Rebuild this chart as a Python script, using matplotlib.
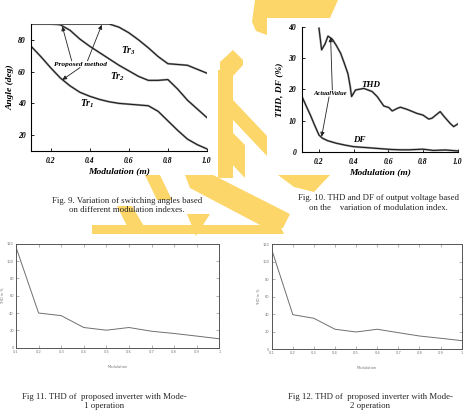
import matplotlib
matplotlib.use("Agg")
import matplotlib.pyplot as plt
from matplotlib.patches import Polygon, Rectangle

W, H = 467, 420

# ---------------- data ----------------
m9 = [0.1, 0.15, 0.2, 0.25, 0.3, 0.35, 0.4, 0.45, 0.5, 0.55, 0.6, 0.65, 0.7,
      0.75, 0.8, 0.85, 0.9, 0.95, 1.0]
tr1 = [76, 69.5, 62.5, 56, 51, 47, 44.5, 42.5, 41, 40, 39.5, 39, 38.5,
       35, 29, 23, 17.5, 14, 11.3]
tr2 = [90, 90, 90, 89.5, 86, 80.5, 76, 72, 68, 64, 60.5, 57, 54.5,
       54.5, 55, 49, 42, 36.5, 31]
tr3 = [90, 90, 90, 90, 90, 90, 90, 90, 90, 88, 84.5, 80, 75,
       69.5, 65, 64.5, 64, 61.5, 59]

thd_m = [0.2, 0.215, 0.235, 0.252, 0.277, 0.3, 0.325, 0.345, 0.367, 0.38, 0.388,
         0.411, 0.459, 0.507, 0.536, 0.574, 0.603, 0.623, 0.651, 0.67, 0.709,
         0.767, 0.8, 0.834, 0.853, 0.9, 0.92, 0.958, 0.978, 1.0]
thd = [39.5, 32.6, 34.5, 37, 36, 34, 31.5, 28.5, 25, 21, 17.7,
       19.8, 20.3, 19.3, 17.7, 14.7, 14.2, 13.1, 13.9, 14.3, 13.6,
       12.3, 11.8, 10.5, 10.8, 12.9, 11.5, 9.1, 8.1, 8.9]
df_m = [0.1, 0.125, 0.15, 0.175, 0.2, 0.22, 0.25, 0.3, 0.35, 0.4, 0.45, 0.5,
        0.57, 0.62, 0.67, 0.72, 0.8, 0.86, 0.93, 1.0]
df = [17.9, 14.8, 11.8, 8.5, 5.4, 4.4, 3.6, 2.8, 2.2, 1.7, 1.5, 1.3,
      1.0, 0.8, 0.7, 0.7, 0.9, 0.5, 0.65, 0.35]

m_b = [0.1, 0.2, 0.3, 0.4, 0.5, 0.6, 0.7, 0.8, 0.9, 1.0]
thd_mode1 = [116, 40, 37, 23.3, 20.2, 23.3, 19, 16.4, 13.4, 10.3]
thd_mode2 = [114, 39.6, 35.4, 22.9, 19.8, 22.9, 19, 15.2, 12.6, 9.9]
xt_b = [0.1, 0.2, 0.3, 0.4, 0.5, 0.6, 0.7, 0.8, 0.9, 1.0]
xtl_b = ["0.1", "0.2", "0.3", "0.4", "0.5", "0.6", "0.7", "0.8", "0.9", "1"]
yt_b = [0, 20, 40, 60, 80, 100, 120]
ytl_b = ["0", "20", "40", "60", "80", "100", "120"]

cap9 = "Fig. 9. Variation of switching angles based\non different modulation indexes."
cap10 = "Fig. 10. THD and DF of output voltage based\non the    variation of modulation index."
cap11 = "Fig 11. THD of  proposed inverter with Mode-\n1 operation"
cap12 = "Fig 12. THD of  proposed inverter with Mode-\n2 operation"

# ---------------- figure ----------------
plt.rcParams["mathtext.fontset"] = "custom"
plt.rcParams["mathtext.rm"] = "Liberation Serif:italic:bold"
plt.rcParams["mathtext.it"] = "Liberation Serif:italic:bold"
SERIF = "Liberation Serif"

fig = plt.figure(figsize=(W / 100, H / 100), dpi=100)
fig.patch.set_facecolor("white")


def px(x, y):
    return (x / W, 1 - y / H)


def rect(x0, y0, x1, y1):
    return [x0 / W, 1 - y1 / H, (x1 - x0) / W, (y1 - y0) / H]


# watermark (decorative)
YEL = "#FCD669"
wm = [
    [(255, 0), (338, 0), (330, 18), (267, 18), (267, 35), (256, 31), (252, 22)],
    [(220, 62), (233, 50), (243, 60), (243, 65), (233, 76), (220, 76)],
    [(218, 70), (233, 70), (233, 178), (218, 178)],
    [(233, 100), (268, 137), (268, 157), (233, 120)],
    [(228, 128), (245, 145), (245, 178), (228, 160)],
    [(145, 175), (160, 175), (172, 200), (157, 200)],
    [(185, 175), (213, 175), (290, 214), (283, 228), (262, 226), (190, 188)],
    [(117, 206), (132, 206), (145, 228), (130, 232)],
    [(92, 225), (280, 225), (284, 234), (92, 234)],
    [(187, 214), (210, 214), (196, 236)],
    [(278, 175), (330, 175), (314, 192), (294, 187)],
]
for poly in wm:
    fig.patches.append(Polygon([px(*p) for p in poly], closed=True,
                               transform=fig.transFigure, facecolor=YEL,
                               edgecolor="none", zorder=-2))
fig.patches.append(Rectangle(px(267, 175), 200 / W, 157 / H,
                             transform=fig.transFigure, facecolor="white",
                             edgecolor="none", zorder=-1))

tick_font = dict(family=SERIF, style="italic", weight="bold", size=5.5)
lab_font = dict(family=SERIF, style="italic", weight="bold", size=6.8)

# ---------- Fig 9 ----------
ax9 = fig.add_axes(rect(31, 24, 207, 151))
ax9.set_facecolor("none")
for y in (tr1, tr2, tr3):
    ax9.plot(m9, y, color="#9a9a9a", lw=1.5, solid_capstyle="round")
    ax9.plot(m9, y, color="#1a1a1a", lw=0.75)
ax9.set_xlim(0.1, 1.0)
ax9.set_ylim(10, 90)
ax9.spines["top"].set_visible(False)
ax9.spines["right"].set_visible(False)
for s in ("left", "bottom"):
    ax9.spines[s].set_linewidth(0.8)
ax9.set_xticks([0.2, 0.4, 0.6, 0.8, 1.0])
ax9.set_xticklabels(["0.2", "0.4", "0.6", "0.8", "1.0"], fontdict=tick_font)
ax9.set_yticks([20, 40, 60, 80])
ax9.set_yticklabels(["20", "40", "60", "80"], fontdict=tick_font)
ax9.tick_params(direction="in", length=2.5, width=0.6, pad=4)
ax9.set_xlabel("Modulation (m)", fontdict=lab_font, labelpad=2)
ax9.set_ylabel("Angle (deg)", fontdict=lab_font, labelpad=2)
ax9.text(0.60, 73, "Tr$_3$", ha="center", va="center", family=SERIF,
         style="italic", weight="bold", size=7)
ax9.text(0.54, 57, "Tr$_2$", ha="center", va="center", family=SERIF,
         style="italic", weight="bold", size=7)
ax9.text(0.39, 40, "Tr$_1$", ha="center", va="center", family=SERIF,
         style="italic", weight="bold", size=7)
ax9.text(0.351, 64.6, "Proposed method", ha="center", va="center", family=SERIF,
         style="italic", weight="bold", size=5.3)
arrow = dict(arrowstyle="-|>,head_length=0.25,head_width=0.12", color="#222",
             lw=0.6, shrinkA=0, shrinkB=0)
ax9.annotate("", xy=(0.26, 88.5), xytext=(0.308, 66.8), arrowprops=arrow)
ax9.annotate("", xy=(0.462, 89.5), xytext=(0.389, 66.8), arrowprops=arrow)
ax9.annotate("", xy=(0.26, 54.8), xytext=(0.351, 62.6), arrowprops=arrow)

# ---------- Fig 10 ----------
ax10 = fig.add_axes(rect(301.7, 26.7, 457.5, 152))
ax10.set_facecolor("none")
ax10.plot(thd_m, thd, color="#9a9a9a", lw=1.5)
ax10.plot(thd_m, thd, color="#1a1a1a", lw=0.75)
ax10.plot(df_m, df, color="#9a9a9a", lw=1.5)
ax10.plot(df_m, df, color="#1a1a1a", lw=0.75)
ax10.set_xlim(0.1, 1.0)
ax10.set_ylim(0, 40)
ax10.spines["top"].set_visible(False)
ax10.spines["right"].set_visible(False)
for s in ("left", "bottom"):
    ax10.spines[s].set_linewidth(0.8)
ax10.set_xticks([0.2, 0.4, 0.6, 0.8, 1.0])
ax10.set_xticklabels(["0.2", "0.4", "0.6", "0.8", "1.0"], fontdict=tick_font)
ax10.set_yticks([0, 10, 20, 30, 40])
ax10.set_yticklabels(["0", "10", "20", "30", "40"], fontdict=tick_font)
ax10.tick_params(direction="in", length=2.5, width=0.6, pad=4)
ax10.set_xlabel("Modulation (m)", fontdict=lab_font, labelpad=2)
ax10.set_ylabel("THD, DF (%)", fontdict=lab_font, labelpad=4)
ax10.text(0.5, 21.4, "THD", ha="center", va="center", family=SERIF,
          style="italic", weight="bold", size=6.5)
ax10.text(0.43, 3.8, "DF", ha="center", va="center", family=SERIF,
          style="italic", weight="bold", size=6.5)
ax10.text(0.267, 18.7, "ActualValue", ha="center", va="center", family=SERIF,
          style="italic", weight="bold", size=4.8)
ax10.annotate("", xy=(0.267, 36.6), xytext=(0.277, 19.8), arrowprops=arrow)
ax10.annotate("", xy=(0.215, 4.9), xytext=(0.258, 17.6), arrowprops=arrow)

# ---------- Fig 11 / 12 ----------
small = dict(family="DejaVu Sans", size=2.6, color="#777777")


def bottom_plot(r, ydata):
    ax = fig.add_axes(r)
    ax.set_facecolor("white")
    ax.plot(m_b, ydata, color="#6f6f6f", lw=0.7)
    ax.set_xlim(0.1, 1.0)
    ax.set_ylim(0, 120)
    for s in ax.spines.values():
        s.set_color("#555555")
        s.set_linewidth(0.7)
    ax.set_xticks(xt_b)
    ax.set_xticklabels(xtl_b, fontdict=small)
    ax.set_yticks(yt_b)
    ax.set_yticklabels(ytl_b, fontdict=small)
    ax.tick_params(direction="in", length=2.2, width=0.4, color="#777777",
                   top=True, right=True, pad=1.5)
    ax.set_xlabel("Modulation", fontdict=small, labelpad=8)
    ax.set_ylabel("THD in %", fontdict=small, labelpad=1)
    return ax


bottom_plot(rect(16, 243.7, 219.3, 347.7), thd_mode1)
bottom_plot(rect(271.7, 244.3, 461.7, 349.3), thd_mode2)

# ---------- captions ----------
cap = dict(family=SERIF, size=6.3, ha="center", va="top", linespacing=1.25,
           color="#222222")
fig.text(*px(127, 197), cap9, **cap)
fig.text(*px(378, 194), cap10, **cap)
fig.text(*px(104, 393), cap11, **cap)
fig.text(*px(370, 393), cap12, **cap)

fig.savefig("out.png", dpi=100)
